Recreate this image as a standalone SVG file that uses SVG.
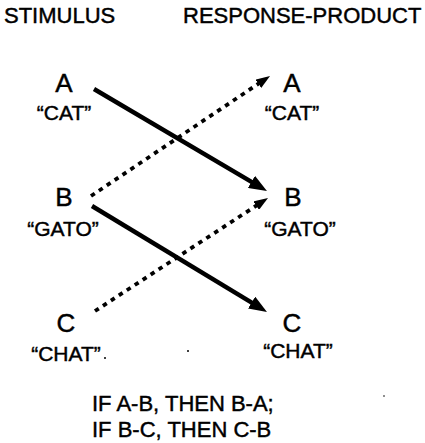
<svg xmlns="http://www.w3.org/2000/svg" width="425" height="443" viewBox="0 0 425 443">
  <style>
    text { font-family: "Liberation Sans", Arial, sans-serif; fill: #000; stroke: #000; stroke-width: 0.45; }
    .head { font-size: 22px; }
    .letter { font-size: 26px; text-anchor: middle; }
    .word { font-size: 21px; text-anchor: middle; }
    .rule { font-size: 22px; }
    .solid { stroke: #000; stroke-width: 4.5; fill: none; }
    .dotted { stroke: #000; stroke-width: 3.8; stroke-dasharray: 4.5 5; fill: none; }
    .speck { fill: #000; }
  </style>
  <defs>
    <marker id="arrowSolid" markerUnits="userSpaceOnUse" viewBox="0 0 18 14" markerWidth="18" markerHeight="14" refX="4" refY="7" orient="auto">
      <path d="M0,0 L18,7 L0,14 z" fill="#000"/>
    </marker>
    <marker id="arrowDotted" markerUnits="userSpaceOnUse" viewBox="0 0 14 10" markerWidth="14" markerHeight="10" refX="3" refY="5" orient="auto">
      <path d="M0,0 L14,5 L0,10 z" fill="#000"/>
    </marker>
  </defs>

  <!-- column headings -->
  <text class="head" x="4" y="23">STIMULUS</text>
  <text class="head" x="183" y="23">RESPONSE-PRODUCT</text>

  <!-- stimulus column -->
  <g id="stimA">
    <text class="letter" x="64" y="92">A</text>
    <text class="word" x="64" y="120">“CAT”</text>
  </g>
  <g id="stimB">
    <text class="letter" x="64" y="206">B</text>
    <text class="word" x="63" y="236">“GATO”</text>
  </g>
  <g id="stimC">
    <text class="letter" x="66" y="332">C</text>
    <text class="word" x="66" y="361">“CHAT”</text>
  </g>

  <!-- response-product column -->
  <g id="respA">
    <text class="letter" x="292" y="92">A</text>
    <text class="word" x="292" y="120">“CAT”</text>
  </g>
  <g id="respB">
    <text class="letter" x="293" y="206">B</text>
    <text class="word" x="300" y="236">“GATO”</text>
  </g>
  <g id="respC">
    <text class="letter" x="292" y="332">C</text>
    <text class="word" x="298" y="358">“CHAT”</text>
  </g>

  <!-- connectors: trained (solid) and derived (dotted) relations -->
  <g id="connectors">
    <line class="solid" x1="94" y1="89" x2="254.9" y2="183.9" marker-end="url(#arrowSolid)"/>
    <line class="solid" x1="92" y1="206" x2="255" y2="304.7" marker-end="url(#arrowSolid)"/>
    <line class="dotted" x1="95" y1="311" x2="258.8" y2="204" marker-end="url(#arrowDotted)"/>
    <line class="dotted" x1="91" y1="196" x2="260.9" y2="82.1" marker-end="url(#arrowDotted)"/>
  </g>

  <!-- rule text -->
  <text class="rule" x="92" y="411">IF A-B, THEN B-A;</text>
  <text class="rule" x="92" y="437">IF B-C, THEN C-B</text>

  <!-- small marks -->
  <circle class="speck" cx="105" cy="358" r="1"/>
  <circle class="speck" cx="188" cy="351" r="1"/>
  <circle class="speck" cx="384" cy="396" r="0.8"/>
</svg>
